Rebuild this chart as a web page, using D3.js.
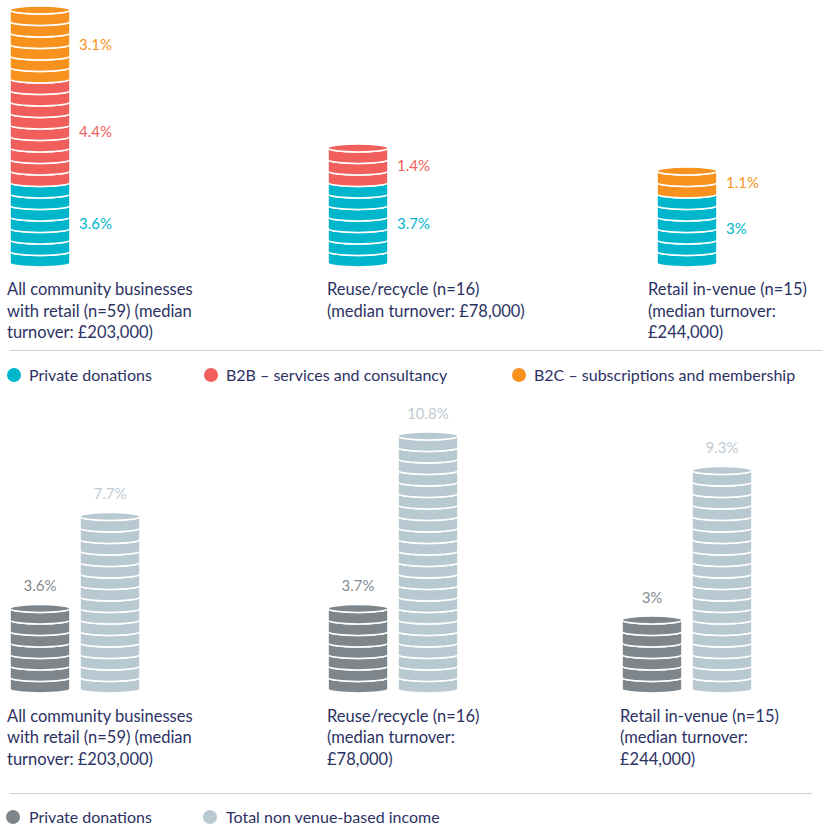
<!DOCTYPE html>
<html>
  <head>
    <meta charset="utf-8" />
    <script src="https://d3js.org/d3.v7.min.js"></script>
    <style>
      body { margin: 0; background: #fff; }
      text { font-family: Lato, "Open Sans", sans-serif; }
      .cat { fill: #2b3263; font-size: 16.5px; }
      .legend text { fill: #2b3263; font-size: 16px; }
      .val { font-size: 15px; }
    </style>
  </head>
  <body>
    <svg id="chart" width="824" height="825"></svg>
    <script>
      // data
      var topCategories = [
        ["All community businesses", "with retail (n=59) (median", "turnover: £203,000)"],
        ["Reuse/recycle (n=16)", "(median turnover: £78,000)"],
        ["Retail in-venue (n=15)", "(median turnover:", "£244,000)"]
      ];
      var bottomCategories = [
        ["All community businesses", "with retail (n=59) (median", "turnover: £203,000)"],
        ["Reuse/recycle (n=16)", "(median turnover:", "£78,000)"],
        ["Retail in-venue (n=15)", "(median turnover:", "£244,000)"]
      ];
      var privateDonations = [3.6, 3.7, 3];
      var b2bServices = [4.4, 1.4, 0];
      var b2cSubscriptions = [3.1, 0, 1.1];
      var totalNonVenue = [7.7, 10.8, 9.3];

      var topLegend = ["Private donations", "B2B – services and consultancy", "B2C – subscriptions and membership"];
      var bottomLegend = ["Private donations", "Total non venue-based income"];

      var colTeal = "#00b6cd", colRed = "#f05f5b", colOrange = "#f7921e";
      var colDark = "#7e868b", colLight = "#b9c9d2";

      var svg = d3.select("#chart");

      var coinValue = 0.5;   // % per coin
      var coinH = 11.5;
      var stackW = 60, ry = 4;

      // coins -> pixels
      var h = d3.scaleLinear().domain([0, 1]).range([0, coinH]);

      function coinPath(x0, yTop, yBot) {
        var x1 = x0 + stackW, rx = stackW / 2;
        return "M" + x0 + "," + yTop +
          "A" + rx + "," + ry + " 0 0 0 " + x1 + "," + yTop +
          "L" + x1 + "," + yBot +
          "A" + rx + "," + ry + " 0 0 1 " + x0 + "," + yBot + "Z";
      }

      // draws a stack of coins; segments = [{v, color}], returns segment boxes
      function drawStack(g, x0, base, segments) {
        var count = 0, boxes = [];
        segments.forEach(function(s) {
          var n = Math.round(s.v / coinValue);
          if (!n) return;
          var start = count;
          d3.range(n).forEach(function(i) {
            var k = start + i;
            g.append("path")
              .attr("d", coinPath(x0, base - h(k + 1), base - h(k)))
              .attr("fill", s.color)
              .attr("stroke", "#fff")
              .attr("stroke-width", 1.6);
          });
          count += n;
          boxes.push({ v: s.v, color: s.color, yTop: base - h(count), yBot: base - h(start) });
        });
        var last = boxes[boxes.length - 1];
        g.append("ellipse")
          .attr("cx", x0 + stackW / 2)
          .attr("cy", last.yTop)
          .attr("rx", stackW / 2)
          .attr("ry", ry)
          .attr("fill", last.color)
          .attr("stroke", "#fff")
          .attr("stroke-width", 1.6);
        return boxes;
      }

      function catLabel(lines, x, y) {
        var t = svg.append("text").attr("class", "cat");
        lines.forEach(function(l, i) {
          t.append("tspan").attr("x", x).attr("y", y + i * 21.5).text(l);
        });
      }

      // ---- top chart
      var topX = [10, 328, 657];
      var topLabelX = [7, 327, 648];
      var topBase = 263;

      topCategories.forEach(function(c, i) {
        var g = svg.append("g");
        var boxes = drawStack(g, topX[i], topBase, [
          { v: privateDonations[i], color: colTeal },
          { v: b2bServices[i], color: colRed },
          { v: b2cSubscriptions[i], color: colOrange }
        ]);
        boxes.forEach(function(b) {
          svg.append("text")
            .attr("class", "val")
            .attr("x", topX[i] + stackW + 9)
            .attr("y", (b.yTop + b.yBot) / 2 + 2)
            .attr("dominant-baseline", "middle")
            .attr("fill", b.color)
            .text(b.v + "%");
        });
        catLabel(c, topLabelX[i], 295);
      });

      svg.append("line")
        .attr("x1", 10).attr("x2", 822)
        .attr("y1", 350.5).attr("y2", 350.5)
        .attr("stroke", "#c9d4dc").attr("stroke-width", 1);

      var leg1 = svg.append("g").attr("class", "legend");
      var leg1X = [14, 211, 519];
      var leg1Col = [colTeal, colRed, colOrange];
      topLegend.forEach(function(d, i) {
        leg1.append("circle").attr("cx", leg1X[i]).attr("cy", 375).attr("r", 7).attr("fill", leg1Col[i]);
        leg1.append("text").attr("x", leg1X[i] + 15).attr("y", 381).text(d);
      });

      // ---- bottom chart
      var botX = [10, 328, 622];
      var botLabelX = [7, 327, 620];
      var botBase = 689;
      var gap = 70;

      bottomCategories.forEach(function(c, i) {
        var g = svg.append("g");
        var a = drawStack(g, botX[i], botBase, [{ v: privateDonations[i], color: colDark }]);
        var b = drawStack(g, botX[i] + gap, botBase, [{ v: totalNonVenue[i], color: colLight }]);
        [[a[0], botX[i], "#858c91"], [b[0], botX[i] + gap, "#bfcbd3"]].forEach(function(p) {
          svg.append("text")
            .attr("class", "val")
            .attr("x", p[1] + stackW / 2)
            .attr("y", p[0].yTop - ry - 17)
            .attr("text-anchor", "middle")
            .attr("dominant-baseline", "middle")
            .attr("fill", p[2])
            .text(p[0].v + "%");
        });
        catLabel(c, botLabelX[i], 721.5);
      });

      svg.append("line")
        .attr("x1", 10).attr("x2", 812)
        .attr("y1", 793.5).attr("y2", 793.5)
        .attr("stroke", "#c9d4dc").attr("stroke-width", 1);

      var leg2 = svg.append("g").attr("class", "legend");
      var leg2X = [13, 210];
      var leg2Col = [colDark, colLight];
      bottomLegend.forEach(function(d, i) {
        leg2.append("circle").attr("cx", leg2X[i]).attr("cy", 817).attr("r", 7).attr("fill", leg2Col[i]);
        leg2.append("text").attr("x", leg2X[i] + 16).attr("y", 823).text(d);
      });
    </script>
  </body>
</html>
